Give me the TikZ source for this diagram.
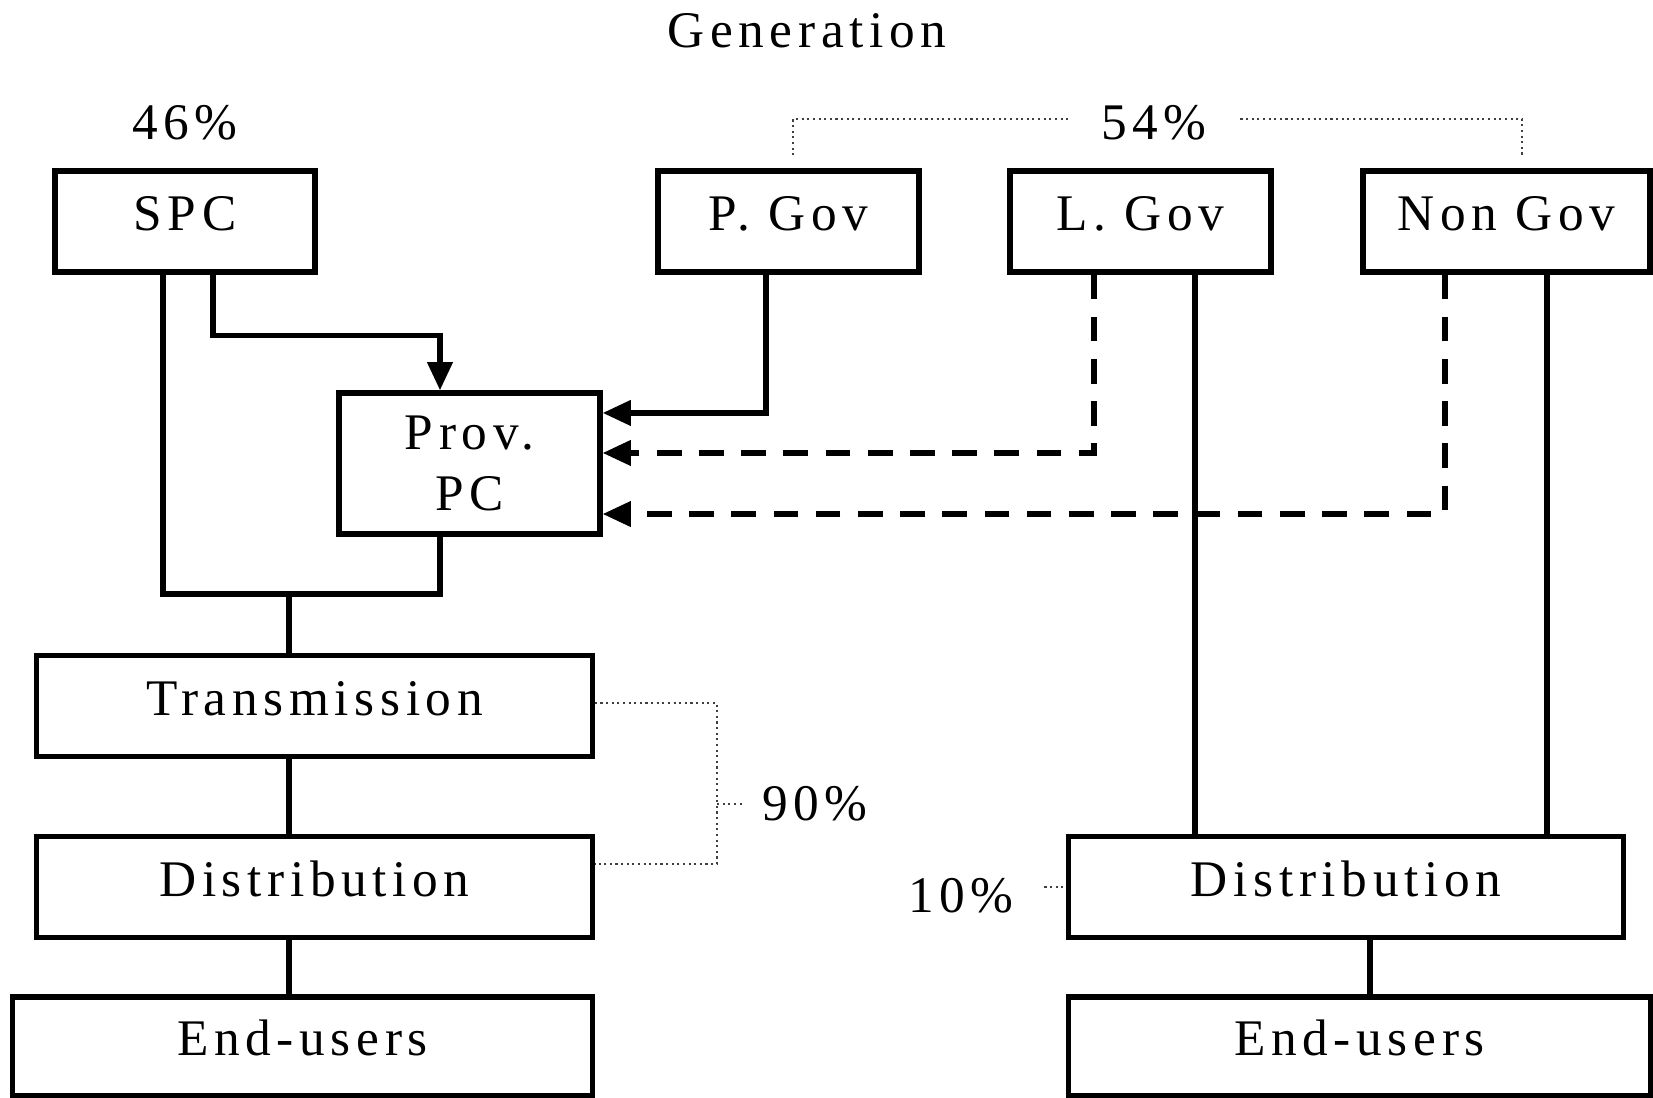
\documentclass[tikz,border=0pt]{standalone}
\usepackage{fontspec}
\setmainfont[LetterSpace=11]{Liberation Serif}
\usetikzlibrary{positioning,arrows.meta}

\begin{document}
\begin{tikzpicture}[x=0.01cm, y=-0.01cm, font=\fontsize{14.6}{17.3}\selectfont,
  box/.style={draw, line width=1.5pt, inner sep=0pt, align=center, minimum height=1.01cm},
  cell/.style={box, text height=0.36cm, text depth=0.17cm},
  link/.style={line width=1.5pt},
  feed/.style={link, -{Triangle[length=8pt, width=7pt]}},
  dfeed/.style={feed, dash pattern=on 7pt off 5pt},
  share/.style={line width=0.5pt, black!75, dash pattern=on 0.6pt off 1pt}]
  \useasboundingbox (0,0) rectangle (1653,1098);
  % generation
  \node (gen) at (807,31) {Generation};
  \node[inner sep=0pt] (p46) at (185,123) {46\%};
  \node[inner sep=3.3mm] (p54) at (1154,123) {54\%};
  \node[cell, minimum width=2.6cm]  (spc)  at (185,221.5)    {SPC};
  \node[cell, minimum width=2.61cm] (pgov) at (788.5,221.5)  {P. Gov};
  \node[cell, minimum width=2.61cm] (lgov) at (1140.5,221.5) {L. Gov};
  \node[cell, minimum width=2.87cm] (ngov) at (1506.5,221.5) {Non Gov};
  \node[box, minimum width=2.61cm, minimum height=1.41cm] (prov) at (469.5,463.5) {Prov.\\PC};
  % grid
  \node[cell, minimum width=5.55cm] (trans) at (314.5,706) {Transmission};
  \node[cell, minimum width=5.55cm] (distl) at (314.5,887) {Distribution};
  \node[cell, minimum width=5.79cm, minimum height=0.99cm] (endl) at (302.5,1046.5) {End-users};
  \node[cell, minimum width=5.54cm] (distr) at (1346,887) {Distribution};
  \node[cell, minimum width=5.81cm, minimum height=0.99cm] (endr) at (1359.5,1046.5) {End-users};
  \node[inner sep=2mm] (p90) at (815,804) {90\%};
  \node[inner sep=3mm] (p10) at (961,896) {10\%};
  % connectors
  \coordinate (bus) at (289,594);
  \coordinate[xshift=5.45mm] (lg) at (lgov.south);
  \coordinate[xshift=4.05mm] (ng) at (ngov.south);
  \coordinate[xshift=2.4mm] (dr) at (distr.south);
  \draw[link] ([xshift=-2.2mm]spc.south) |- (bus) -| ([xshift=-2.95mm]prov.south);
  \draw[link] (bus) -- (bus |- trans.north);
  \draw[feed] ([xshift=2.8mm]spc.south) -- ++(0,61) -| ([xshift=-2.95mm]prov.north);
  \draw[feed] ([xshift=-2.25mm]pgov.south) |- ([yshift=5.05mm]prov.east);
  \draw[dfeed] ([xshift=-4.65mm]lgov.south) |- ([yshift=1.05mm]prov.east);
  \draw[dfeed] ([xshift=-6.15mm]ngov.south) |- ([yshift=-5.05mm]prov.east);
  \draw[link] (lg) -- (lg |- distr.north);
  \draw[link] (ng) -- (ng |- distr.north);
  \draw[link] (bus |- trans.south) -- (bus |- distl.north);
  \draw[link] (bus |- distl.south) -- (bus |- endl.north);
  \draw[link] (dr) -- (dr |- endr.north);
  % shares
  \coordinate (b90) at (717,804);
  \draw[share] ([xshift=0.45mm, yshift=1.3mm]pgov.north) |- ([yshift=0.4mm]p54.west);
  \draw[share] ([yshift=0.4mm]p54.east) -| ([xshift=1.55mm, yshift=1.3mm]ngov.north);
  \draw[share] ([yshift=0.3mm]trans.east) -| (b90) |- ([yshift=2.3mm]distl.east);
  \draw[share] (b90) -- (p90.west);
  \draw[share] (p10.east |- distr.west) -- (distr.west);
\end{tikzpicture}
\end{document}
